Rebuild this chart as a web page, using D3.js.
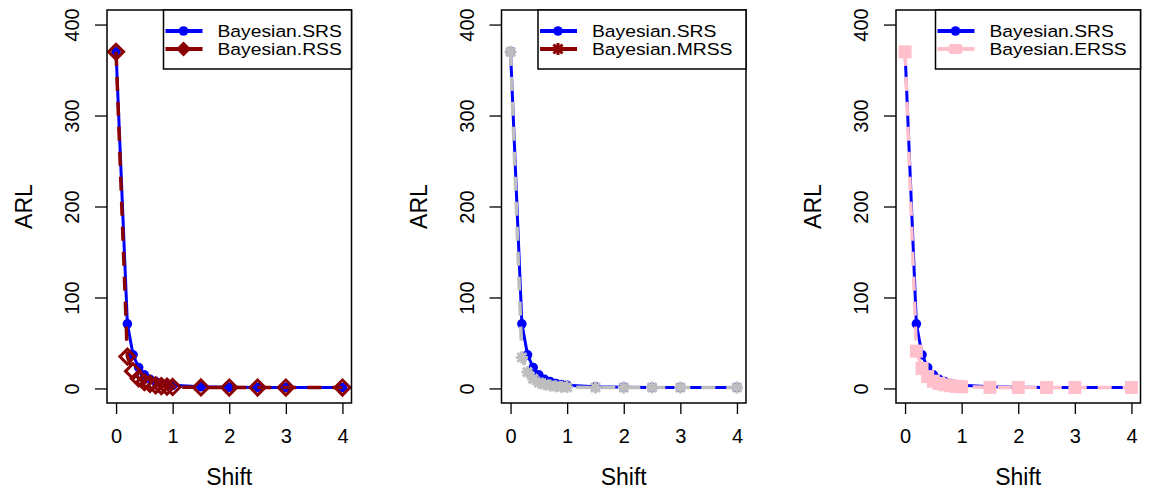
<!DOCTYPE html>
<html>
<head>
<meta charset="utf-8">
<script src="https://cdn.jsdelivr.net/npm/d3@7"></script>
<style>
  body { margin: 0; background: #fff; }
  svg { display: block; font-family: "Liberation Sans", Arial, sans-serif; }
</style>
</head>
<body>
<svg id="chart" width="1155" height="495"></svg>
<script>
// shift values and ARL
const shift    = [0, 0.2, 0.3, 0.4, 0.5, 0.6, 0.7, 0.8, 0.9, 1, 1.5, 2, 2.5, 3, 4];
const arlSRS   = [370, 71, 37, 23, 15, 10, 7.5, 5.5, 4.3, 3.5, 1.8, 1.3, 1.1, 1, 1];
const arlRSS   = [370, 35, 19, 11, 7, 5, 3.5, 2.6, 2, 1.6, 1.1, 1, 1, 1, 1];
const arlMRSS  = [370, 34, 18, 10.5, 6.5, 4.5, 3.3, 2.5, 1.9, 1.5, 1.1, 1, 1, 1, 1];
const arlERSS  = [370, 41, 22, 13, 8, 5.5, 4, 3, 2.3, 1.8, 1.2, 1, 1, 1, 1];
const xTicks = [0, 1, 2, 3, 4];
const yTicks = [0, 100, 200, 300, 400];
const seriesNames = ["Bayesian.RSS", "Bayesian.MRSS", "Bayesian.ERSS"];

const panels = [
  { values: arlRSS,  name: seriesNames[0], color: "#8B0000", legendColor: "#8B0000", marker: "diamond", legendW: 188 },
  { values: arlMRSS, name: seriesNames[1], color: "#BEBEBE", legendColor: "#8B0000", marker: "star",    legendW: 208 },
  { values: arlERSS, name: seriesNames[2], color: "#FFC0CB", legendColor: "#FFC0CB", marker: "square",  legendW: 205 }
];

const svg = d3.select("#chart");
const plotTop = 10, plotBottom = 403, plotW = 244.5;

// draw one marker of the given kind
function drawMarker(g, kind, x, y, color, legend) {
  if (kind === "circle") {
    g.append("circle").attr("cx", x).attr("cy", y).attr("r", 4.8).attr("fill", color);
  } else if (kind === "diamond") {
    const s = 7.5;
    const p = `M${x},${y - s}L${x + s},${y}L${x},${y + s}L${x - s},${y}Z`;
    if (legend) g.append("path").attr("d", p).attr("fill", color);
    else g.append("path").attr("d", p).attr("fill", "none").attr("stroke", color).attr("stroke-width", 3);
  } else if (kind === "star") {
    const s = 6, d = 4.5;
    const p = `M${x - s},${y}H${x + s}M${x},${y - s}V${y + s}M${x - d},${y - d}L${x + d},${y + d}M${x - d},${y + d}L${x + d},${y - d}`;
    g.append("path").attr("d", p).attr("stroke", color).attr("stroke-width", 3).attr("fill", "none");
  } else if (kind === "square") {
    const s = legend ? 7 : 6.5;
    g.append("rect").attr("x", x - s).attr("y", y - (legend ? 5 : s))
      .attr("width", 2 * s).attr("height", legend ? 10 : 2 * s)
      .attr("rx", legend ? 3 : 0).attr("fill", color);
  }
}

panels.forEach((p, i) => {
  const left = 107 + i * 394.5;
  const x = d3.scaleLinear().domain([-0.16, 4.16]).range([left, left + plotW]);
  const y = d3.scaleLinear().domain([-16, 416]).range([plotBottom, plotTop]);
  const g = svg.append("g");

  // axes
  g.append("g").attr("transform", `translate(0,${plotBottom})`)
    .call(d3.axisBottom(x).tickValues(xTicks).tickSize(11).tickFormat(d3.format("d")))
    .call(a => a.select(".domain").remove())
    .call(a => a.selectAll("line").attr("stroke", "#000").attr("stroke-width", 1.3))
    .call(a => a.selectAll("text").attr("font-size", 20).attr("fill", "#000").attr("dy", 0).attr("y", 40));

  const ya = g.append("g").attr("transform", `translate(${left},0)`)
    .call(d3.axisLeft(y).tickValues(yTicks).tickSize(12));
  ya.select(".domain").remove();
  ya.selectAll("line").attr("stroke", "#000").attr("stroke-width", 1.3);
  ya.selectAll("text").attr("font-size", 20).attr("fill", "#000")
    .attr("x", null).attr("dy", null)
    .attr("text-anchor", "middle")
    .attr("transform", `translate(-28,0) rotate(-90)`);

  // axis titles
  g.append("text").attr("x", left + plotW / 2).attr("y", 485)
    .attr("text-anchor", "middle").attr("font-size", 23).text("Shift");
  g.append("text").attr("transform", `translate(${left - 75},${(plotTop + plotBottom) / 2}) rotate(-90)`)
    .attr("text-anchor", "middle").attr("font-size", 23).text("ARL");

  const line = d3.line().x(d => x(d[0])).y(d => y(d[1]));

  // SRS series
  const srs = shift.map((s, k) => [s, arlSRS[k]]);
  g.append("path").attr("d", line(srs)).attr("fill", "none")
    .attr("stroke", "#0000FF").attr("stroke-width", 3);
  srs.forEach(d => drawMarker(g, "circle", x(d[0]), y(d[1]), "#0000FF"));

  // comparison series
  const other = shift.map((s, k) => [s, p.values[k]]);
  g.append("path").attr("d", line(other)).attr("fill", "none")
    .attr("stroke", p.color).attr("stroke-width", 3.5).attr("stroke-dasharray", "14,11");
  other.forEach(d => drawMarker(g, p.marker, x(d[0]), y(d[1]), p.color));

  // plot box
  g.append("rect").attr("x", left).attr("y", plotTop).attr("width", plotW).attr("height", plotBottom - plotTop)
    .attr("fill", "none").attr("stroke", "#000").attr("stroke-width", 1.5);

  // legend
  const lx = left + plotW - p.legendW;
  const lg = g.append("g");
  lg.append("rect").attr("x", lx).attr("y", plotTop).attr("width", p.legendW).attr("height", 59)
    .attr("fill", "#fff").attr("stroke", "#000").attr("stroke-width", 1.5);
  const rows = [
    { name: "Bayesian.SRS", color: "#0000FF", marker: "circle" },
    { name: p.name, color: p.legendColor, marker: p.marker }
  ];
  rows.forEach((r, k) => {
    const ry = 31 + k * 18;
    lg.append("line").attr("x1", lx + 2).attr("x2", lx + 39).attr("y1", ry).attr("y2", ry)
      .attr("stroke", r.color).attr("stroke-width", 4);
    drawMarker(lg, r.marker, lx + 20, ry, r.color, true);
    // the legend text looks a bit wide in the picture, so stretch it slightly
    lg.append("text").attr("transform", `translate(${lx + 54},${ry + 6}) scale(1.17,1)`)
      .attr("font-size", 16.5).text(r.name);
  });
});
</script>
</body>
</html>
